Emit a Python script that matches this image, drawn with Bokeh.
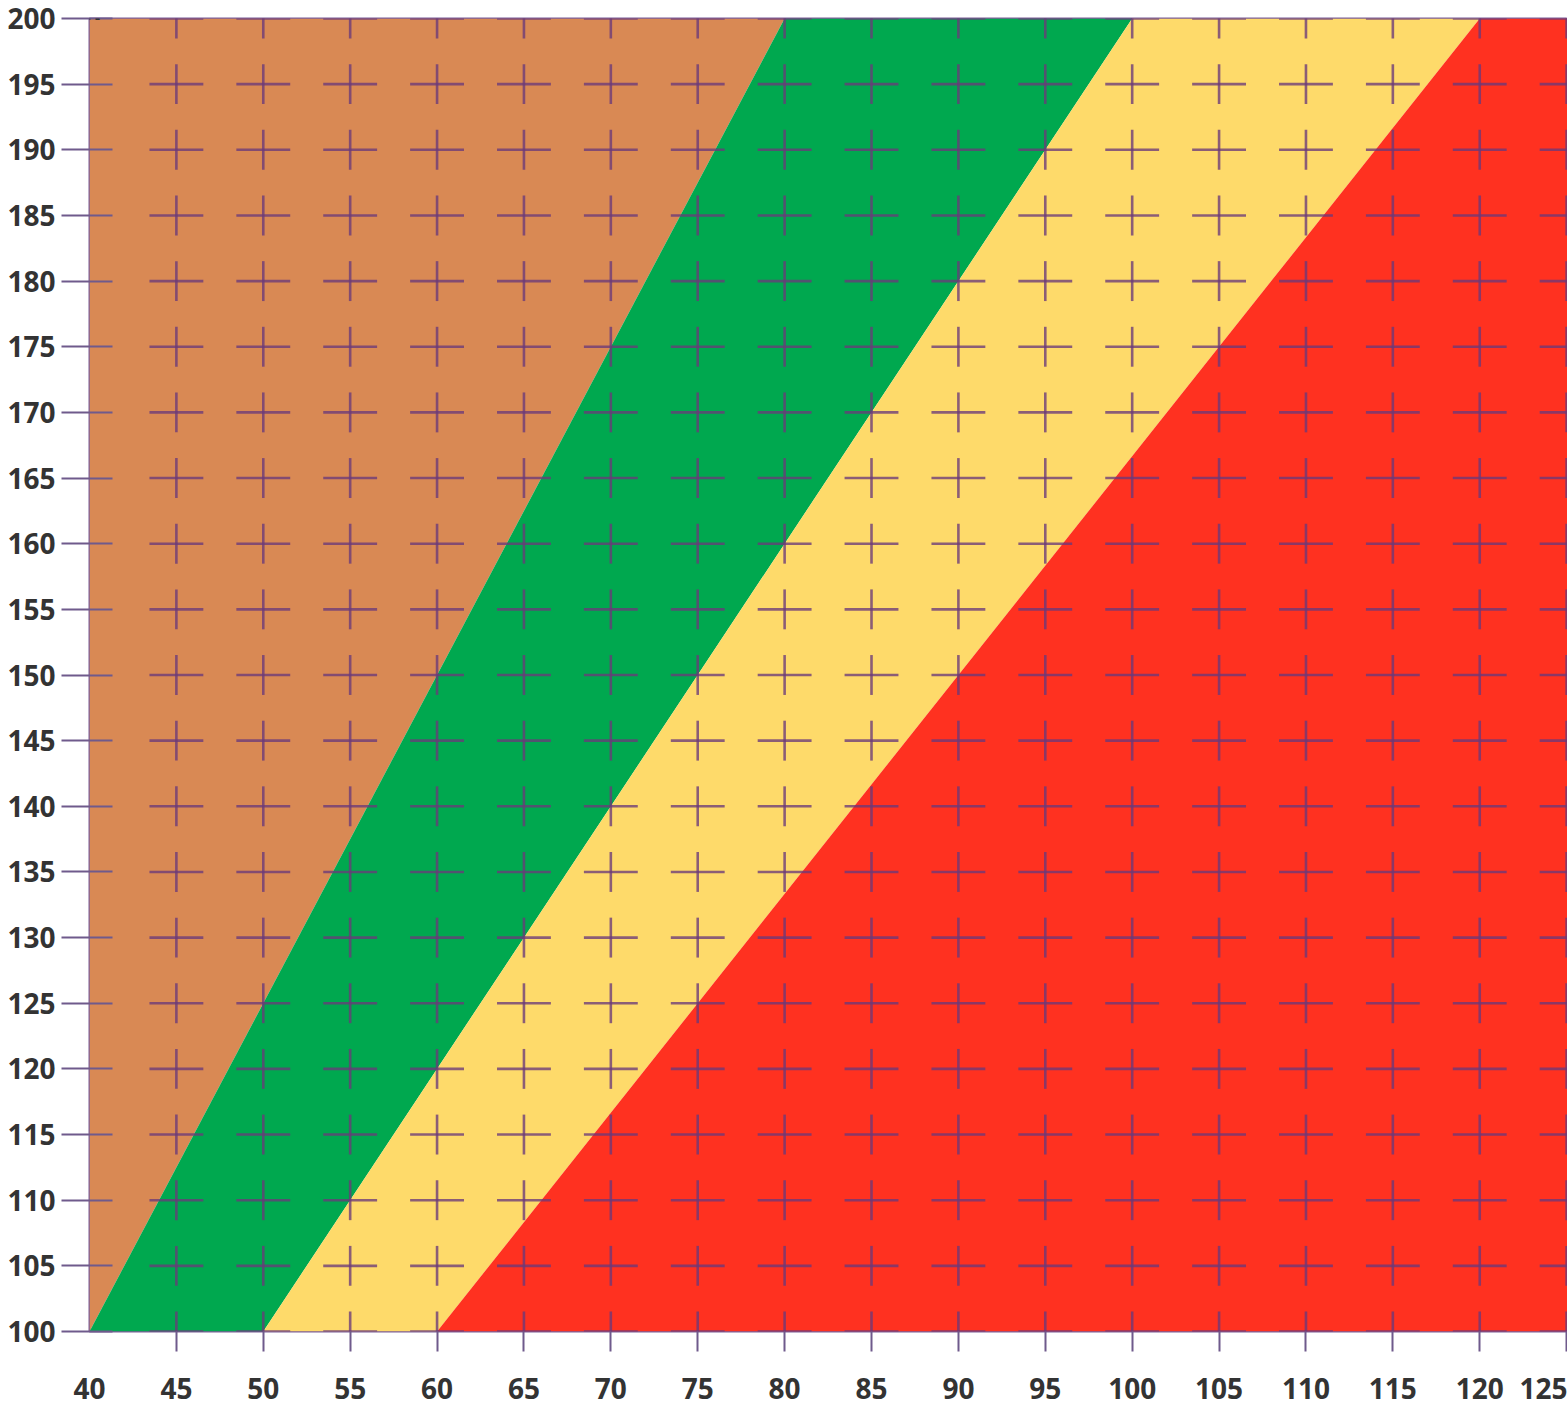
from bokeh.plotting import figure
from bokeh.models import Range1d, FixedTicker, Label
from bokeh.embed import file_html
from bokeh.resources import INLINE

# ---- data ----
weights_kg = [40, 45, 50, 55, 60, 65, 70, 75, 80, 85, 90, 95, 100, 105, 110, 115, 120, 125]
heights_cm = [100, 105, 110, 115, 120, 125, 130, 135, 140, 145, 150, 155, 160, 165, 170,
              175, 180, 185, 190, 195, 200]
# zone boundaries: weight at height 100 cm and at 200 cm
bound_at_100 = [40, 50, 60]
bound_at_200 = [80, 100, 120]
zone_colors = ["#D98954", "#00A84F", "#FEDA6A", "#FF3120"]

X_MIN, X_MAX = 40, 125.05
Y_MIN, Y_MAX = 100, 200

p = figure(width=1567, height=1404, output_backend="svg", toolbar_location=None,
           x_range=Range1d(X_MIN, X_MAX), y_range=Range1d(Y_MIN, Y_MAX),
           min_border_left=89, min_border_right=0, min_border_top=18, min_border_bottom=73)
p.background_fill_color = "white"
p.border_fill_color = "white"
p.grid.visible = False

h0, h1 = heights_cm[0], heights_cm[-1]
# zones
xs = [
    [X_MIN, bound_at_100[0], bound_at_200[0], X_MIN],
    [bound_at_100[0], bound_at_100[1], bound_at_200[1], bound_at_200[0]],
    [bound_at_100[1], bound_at_100[2], bound_at_200[2], bound_at_200[1]],
    [bound_at_100[2], weights_kg[-1] + 5, weights_kg[-1] + 5, bound_at_200[2]],
]
ys = [[h0, h0, h1, h1]] * 4
p.patches(xs, ys, fill_color=zone_colors, line_color=None)

# crosses at grid points
cx0, cx1, cy0 = [], [], []
vx0, vy0, vy1 = [], [], []
for w in weights_kg[1:]:
    for h in heights_cm:
        cx0.append(w - 1.55); cx1.append(w + 1.55); cy0.append(h)
        vx0.append(w); vy0.append(h - 1.52); vy1.append(h + 1.52)
cross_color = "#6a3a7a"
p.segment(cx0, cy0, cx1, cy0, line_color=cross_color, line_width=2.6, line_alpha=0.78)
p.segment(vx0, vy0, vx0, vy1, line_color=cross_color, line_width=2.6, line_alpha=0.78)

p.outline_line_color = "#7d5f98"
p.outline_line_width = 2

font = "Open Sans"
for ax in (p.xaxis[0], p.yaxis[0]):
    ax.axis_line_color = None
    ax.major_tick_line_color = "#6f5a8c"
    ax.major_tick_line_width = 2
    ax.minor_tick_line_color = "#6f5a8c"
    ax.minor_tick_line_width = 2
    ax.major_label_text_font = font
    ax.major_label_text_font_style = "bold"
    ax.major_label_text_font_size = "28px"
    ax.major_label_text_color = "#333333"

p.xaxis.ticker = FixedTicker(ticks=weights_kg, minor_ticks=weights_kg[1:])
p.xaxis.major_tick_out = 0
p.xaxis.major_tick_in = 0
p.xaxis.minor_tick_out = 20
p.xaxis.minor_tick_in = 0
p.xaxis.major_label_standoff = 26

p.yaxis.ticker = FixedTicker(ticks=heights_cm)
p.yaxis.minor_tick_line_color = None
p.yaxis.major_tick_out = 28
p.yaxis.major_tick_in = 23
p.yaxis.major_label_standoff = 6

p.add_layout(Label(x=39.5, y=200.76, text="cm", text_font=font, text_font_style="bold",
                   text_font_size="28px", text_color="#333333", text_align="center",
                   text_baseline="alphabetic"))

open("out.html", "w").write(file_html(p, INLINE))
